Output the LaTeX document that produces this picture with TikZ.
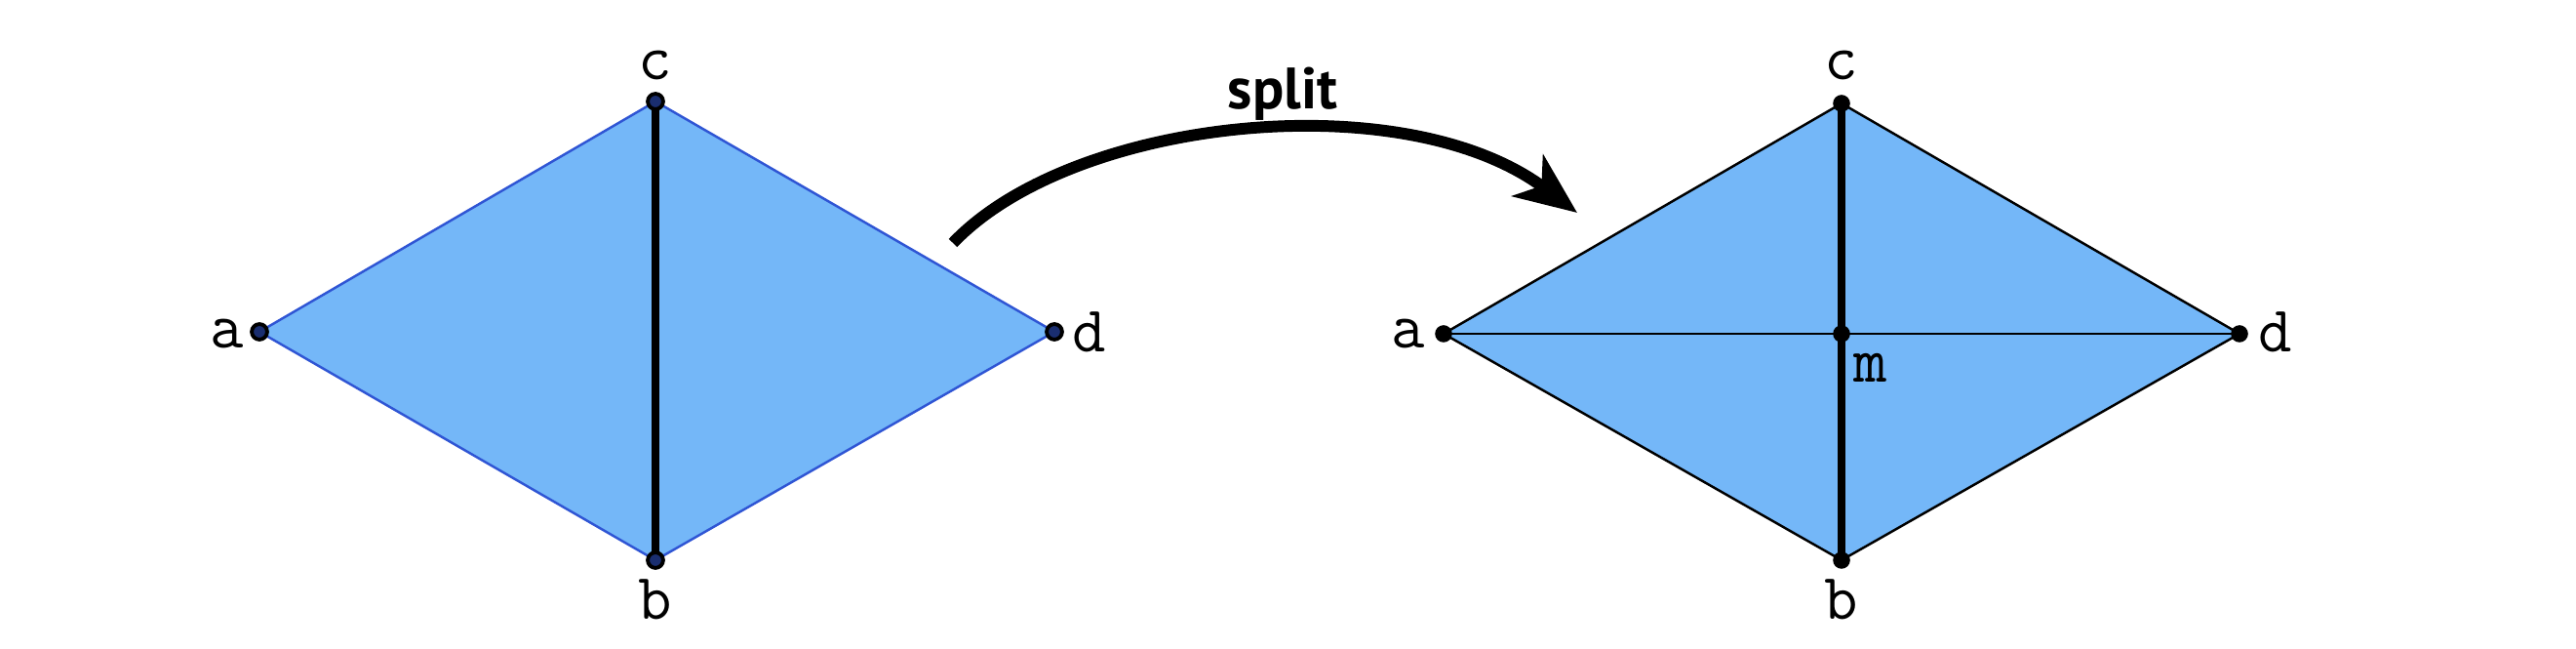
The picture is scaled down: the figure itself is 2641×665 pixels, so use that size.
\documentclass[tikz,border=0pt]{standalone}
\usepackage{fontspec}
\newfontfamily\splitfont{PT Sans}
\usetikzlibrary{arrows.meta}
\definecolor{facefill}{HTML}{74B7F8}
\definecolor{edgeblue}{HTML}{2F55D4}
\definecolor{dotcore}{HTML}{1A2E70}
\tikzset{
  vdot/.style={circle,fill=black,inner sep=0pt,minimum size=5pt},
  ldot/.style={circle,draw=black,fill=dotcore,line width=1.1pt,inner sep=0pt,minimum size=4.5pt},
  vlab/.style={font=\ttfamily\fontsize{19}{19}\selectfont,inner sep=0pt},
  thinblue/.style={draw=edgeblue,line width=0.7pt},
  thinblack/.style={draw=black,line width=0.7pt},
  thickedge/.style={draw=black,line width=2.2pt},
}
\begin{document}
\begin{tikzpicture}[x=0.01cm,y=-0.01cm]
\useasboundingbox (0,0) rectangle (2641,665);
% left mesh
\coordinate (la) at (266,340);
\coordinate (lc) at (672,104);
\coordinate (lb) at (672,574);
\coordinate (ld) at (1081,340);
\fill[facefill] (la) -- (lc) -- (ld) -- (lb) -- cycle;
\draw[thinblue] (la) -- (lc) -- (ld) -- (lb) -- cycle;
\draw[thickedge] (lc) -- (lb);
\foreach \p in {la,lb,lc,ld} \node[ldot] at (\p) {};
\node[vlab] (tla) at (233,342) {a};
\node[vlab] (tlc) at (672,67) {c};
\node[vlab] (tlb) at (672,614) {b};
\node[vlab] (tld) at (1117,340) {d};
% right mesh
\coordinate (ra) at (1480,342);
\coordinate (rc) at (1888,106);
\coordinate (rm) at (1888,342);
\coordinate (rb) at (1888,574);
\coordinate (rd) at (2296,342);
\fill[facefill] (ra) -- (rc) -- (rd) -- (rb) -- cycle;
\draw[thinblack] (ra) -- (rc) -- (rd) -- (rb) -- cycle;
\draw[thinblack] (ra) -- (rd);
\draw[thickedge] (rc) -- (rb);
\foreach \p in {ra,rb,rc,rd,rm} \node[vdot] at (\p) {};
\node[vlab] (tra) at (1444,342) {a};
\node[vlab] (trc) at (1888,67) {c};
\node[vlab] (trb) at (1888,614) {b};
\node[vlab] (trd) at (2333,340) {d};
\node[vlab] (trm) at (1918,377) {m};
% split arrow
\coordinate (s0) at (977,249);
\coordinate (s1) at (1617,218);
\draw[line width=3.4pt,-{Stealth[length=18pt,width=15pt,inset=5pt]}] (s0) .. controls (1100,120) and (1440,85) .. (s1);
\node[font=\splitfont\bfseries\fontsize{17}{17}\selectfont,inner sep=0pt] (split) at (1315,96) {split};
\end{tikzpicture}
\end{document}
